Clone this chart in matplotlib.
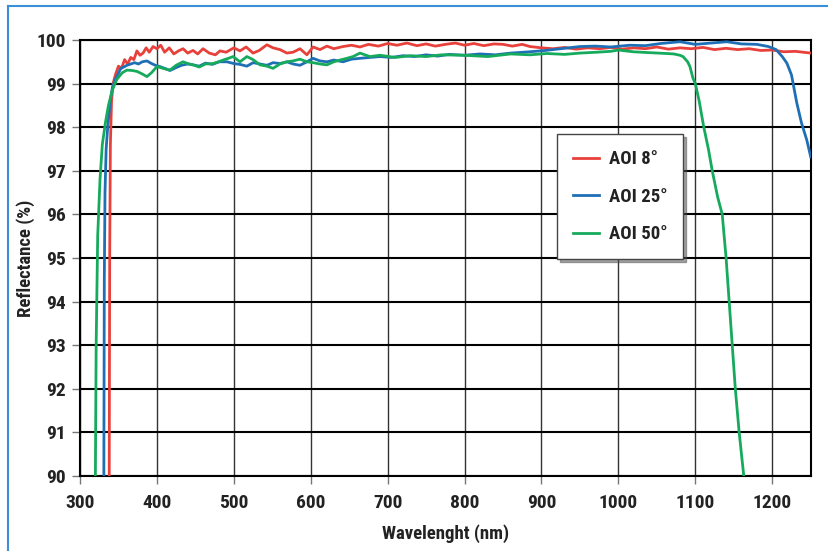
import matplotlib
matplotlib.use('Agg')
import matplotlib.pyplot as plt
from matplotlib.lines import Line2D
from matplotlib import font_manager

# Valores
wl_aoi8 = [338, 338.6, 339.5, 341, 343, 346, 350, 354, 358, 362, 366, 370, 374, 378, 382, 386,
           390, 395, 400, 405, 410, 416, 422, 428, 434, 440, 447, 453, 460, 468, 476, 482,
           490, 500, 508, 516, 525, 533, 543, 551, 560, 569, 577, 586, 595, 603, 612, 621,
           630, 642, 653, 664, 675, 688, 700, 712, 725, 738, 750, 762, 775, 788, 800, 812,
           825, 838, 850, 862, 875, 885, 900, 915, 930, 945, 960, 976, 990, 1005, 1020, 1035,
           1050, 1065, 1080, 1095, 1110, 1125, 1140, 1155, 1170, 1185, 1200, 1215, 1230, 1250]
refl_aoi8 = [90.0, 95.0, 97.6, 98.6, 99.0, 99.2, 99.4, 99.35, 99.55, 99.45, 99.6, 99.55, 99.75, 99.65, 99.7, 99.82,
             99.72, 99.85, 99.8, 99.88, 99.72, 99.82, 99.68, 99.75, 99.8, 99.7, 99.76, 99.68, 99.8, 99.7, 99.66, 99.75,
             99.72, 99.82, 99.75, 99.84, 99.7, 99.76, 99.89, 99.82, 99.78, 99.7, 99.72, 99.8, 99.66, 99.84, 99.78, 99.86,
             99.8, 99.85, 99.88, 99.84, 99.9, 99.86, 99.92, 99.88, 99.93, 99.87, 99.91, 99.86, 99.9, 99.93, 99.88, 99.92,
             99.87, 99.91, 99.9, 99.86, 99.9, 99.85, 99.82, 99.8, 99.83, 99.79, 99.82, 99.8, 99.83, 99.79, 99.82, 99.8,
             99.84, 99.79, 99.82, 99.8, 99.83, 99.78, 99.81, 99.78, 99.8, 99.76, 99.77, 99.73, 99.74, 99.7]

wl_aoi25 = [331, 331.6, 332.5, 334, 336, 339, 342, 346, 349, 353, 357, 361, 366, 371, 376, 381,
            387, 393, 398, 404, 410, 417, 424, 432, 440, 447, 455, 463, 472, 481, 491, 500,
            508, 517, 525, 534, 543, 551, 560, 569, 577, 586, 595, 603, 612, 621, 630, 642,
            653, 664, 677, 690, 705, 720, 735, 750, 765, 780, 800, 820, 840, 860, 885, 905,
            925, 950, 970, 990, 1015, 1035, 1055, 1080, 1100, 1120, 1141, 1160, 1180, 1195,
            1205, 1213, 1219, 1225, 1232, 1238, 1245, 1250]
refl_aoi25 = [90.0, 94.5, 96.5, 97.5, 98.0, 98.55, 98.9, 99.1, 99.2, 99.35, 99.38, 99.42, 99.45, 99.48, 99.45, 99.5,
              99.52, 99.46, 99.42, 99.39, 99.35, 99.3, 99.36, 99.42, 99.45, 99.43, 99.4, 99.47, 99.44, 99.5, 99.5, 99.46,
              99.44, 99.4, 99.48, 99.45, 99.42, 99.48, 99.46, 99.5, 99.45, 99.42, 99.5, 99.58, 99.52, 99.5, 99.54, 99.5,
              99.56, 99.58, 99.6, 99.62, 99.6, 99.64, 99.62, 99.66, 99.63, 99.67, 99.65, 99.68, 99.66, 99.7, 99.73, 99.76,
              99.8, 99.85, 99.86, 99.84, 99.88, 99.87, 99.92, 99.96, 99.9, 99.93, 99.96, 99.91, 99.9, 99.85,
              99.78, 99.62, 99.47, 99.2, 98.55, 98.1, 97.7, 97.32]

wl_aoi50 = [320, 321, 323, 326, 329, 333, 337, 342, 348, 355, 361, 368, 374, 381, 387, 393,
            400, 408, 417, 425, 434, 440, 447, 455, 463, 473, 480, 486, 493, 499, 508, 517,
            525, 534, 543, 551, 560, 569, 577, 586, 595, 603, 612, 621, 630, 638, 647, 655,
            664, 677, 690, 710, 730, 750, 770, 800, 830, 860, 885, 907, 930, 950, 972, 990,
            1000, 1019, 1040, 1063, 1072, 1080, 1084, 1090, 1093, 1097, 1100, 1105, 1111, 1117,
            1122, 1129, 1135, 1140, 1144, 1148, 1152, 1157, 1163]
refl_aoi50 = [90.0, 93.0, 95.5, 96.8, 97.6, 98.1, 98.5, 98.85, 99.1, 99.25, 99.31, 99.3, 99.28, 99.22, 99.16, 99.25,
              99.39, 99.35, 99.31, 99.42, 99.5, 99.46, 99.43, 99.38, 99.45, 99.46, 99.5, 99.54, 99.58, 99.62, 99.5, 99.62,
              99.55, 99.43, 99.4, 99.35, 99.45, 99.5, 99.52, 99.56, 99.5, 99.48, 99.45, 99.43, 99.5, 99.54, 99.58, 99.62,
              99.7, 99.62, 99.65, 99.6, 99.64, 99.62, 99.66, 99.65, 99.62, 99.68, 99.66, 99.69, 99.67, 99.7, 99.72, 99.74,
              99.77, 99.73, 99.71, 99.69, 99.68, 99.65, 99.62, 99.5, 99.39, 99.12, 99.0, 98.6, 98.0, 97.5,
              97.0, 96.4, 96.0, 95.0, 94.0, 93.0, 92.0, 91.0, 90.0]

series = [('AOI 8°', wl_aoi8, refl_aoi8, '#e8413c'),
          ('AOI 25°', wl_aoi25, refl_aoi25, '#1f6fb6'),
          ('AOI 50°', wl_aoi50, refl_aoi50, '#16aa5c')]

x_ticks = [300, 400, 500, 600, 700, 800, 900, 1000, 1100, 1200]
y_ticks = [90, 91, 92, 93, 94, 95, 96, 97, 98, 99, 100]

# fonte estreita, se existir
nomes = {f.name for f in font_manager.fontManager.ttflist}
familia = 'DejaVu Sans'
for cand in ['Liberation Sans Narrow', 'Roboto Condensed', 'Open Sans Condensed', 'DejaVu Sans Condensed']:
    if cand in nomes:
        familia = cand
        break
plt.rcParams['font.family'] = [familia, 'DejaVu Sans']
plt.rcParams['font.weight'] = 'bold'
plt.rcParams['font.stretch'] = 'condensed'

fig = plt.figure(figsize=(8.29, 5.51), dpi=100)
ax = fig.add_axes([80 / 829, 1 - 476 / 551, 730.7 / 829, 436 / 551])

for nome, x, y, cor in series:
    ax.plot(x, y, color=cor, linewidth=2, label=nome, zorder=3)

ax.set_xlim(300, 1250)
ax.set_ylim(90, 100)
ax.set_xticks(x_ticks)
ax.set_yticks(y_ticks)
ax.tick_params(axis='both', labelsize=14, length=6, width=1, color='#777777', pad=4)
ax.tick_params(axis='x', pad=7)
for lab in ax.get_xticklabels() + ax.get_yticklabels():
    lab.set_fontweight('bold')
    lab.set_color('#222222')

ax.xaxis.grid(True, color='#333333', linewidth=1.0)
ax.yaxis.grid(True, color='black', linewidth=1.5)
ax.set_axisbelow(True)
for s in ax.spines.values():
    s.set_linewidth(1.5)
    s.set_color('black')

ax.set_xlabel('Wavelenght (nm)', fontsize=13.5, fontweight='bold', color='#222222', labelpad=9)
ax.set_ylabel('Reflectance (%)', fontsize=13.5, fontweight='bold', color='#222222', labelpad=1)

leg = ax.legend(loc='upper left', bbox_to_anchor=(0.653, 0.784), fancybox=False, shadow=True,
                fontsize=13.5, handlelength=1.4, labelspacing=1.05, borderpad=0.85,
                handletextpad=0.5, borderaxespad=0)
leg.get_frame().set_edgecolor('#444444')
leg.get_frame().set_linewidth(1.0)
for t in leg.get_texts():
    t.set_fontweight('bold')
    t.set_color('#222222')

# moldura azul exterior
fig.add_artist(Line2D([8 / 829, 8 / 829], [0, 1 - 6 / 551], color='#3b8fd8', linewidth=1.5))
fig.add_artist(Line2D([8 / 829, 1], [1 - 6 / 551, 1 - 6 / 551], color='#3b8fd8', linewidth=1.5))

fig.savefig('out.png', dpi=100)
